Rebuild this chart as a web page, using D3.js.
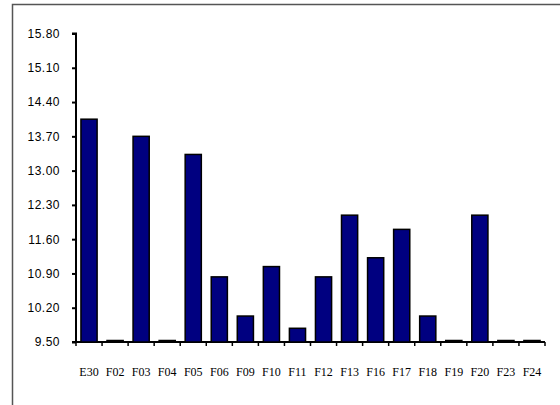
<!DOCTYPE html>
<html><head><meta charset="utf-8">
<script src="https://cdn.jsdelivr.net/npm/d3@7"></script>
<style>
html,body{margin:0;padding:0;background:#fff;}
svg{display:block;}
</style></head>
<body>
<svg id="chart" width="560" height="405"></svg>
<script>
const categories = ["E30","F02","F03","F04","F05","F06","F09","F10","F11","F12","F13","F16","F17","F18","F19","F20","F23","F24"];
const values = [14.05,9.50,13.70,9.50,13.33,10.83,10.03,11.04,9.78,10.83,12.09,11.22,11.80,10.03,9.50,12.09,9.50,9.50];
const yTicks = [9.50,10.20,10.90,11.60,12.30,13.00,13.70,14.40,15.10,15.80];

(function(){
const svg = d3.select("#chart");
const mLeft = 76, mRight = 545, mTop = 33.5, mBottom = 342;

// frame (only top and left visible in the picture)
svg.append("rect").attr("x",12.5).attr("y",4.5).attr("width",560).attr("height",420)
  .attr("fill","none").attr("stroke","#555").attr("stroke-width",1.5);

const x = d3.scaleBand().domain(categories).range([mLeft,mRight]).paddingInner(0.38).paddingOuter(0.19);
const y = d3.scaleLinear().domain([9.5,15.8]).range([mBottom,mTop]);

// y axis
const yAxis = d3.axisLeft(y).tickValues(yTicks).tickFormat(d3.format(".2f")).tickSize(4).tickPadding(12);
const gy = svg.append("g").attr("transform",`translate(${mLeft},0)`).call(yAxis);
gy.select(".domain").attr("stroke","#000").attr("stroke-width",2).attr("d",`M-4,${mTop}H0V${mBottom}H-4`);
gy.selectAll(".tick line").attr("stroke","#000").attr("stroke-width",2);
gy.selectAll(".tick text").attr("font-family","'Liberation Sans', Arial, sans-serif").attr("font-size",12)
  .attr("fill","#000").style("letter-spacing","0.5px");

// x axis with ticks at category boundaries
const xb = d3.scaleLinear().domain([0,categories.length]).range([mLeft,mRight]);
const gx = svg.append("g").attr("transform",`translate(0,${mBottom})`);
gx.append("path").attr("d",`M${mLeft},0H${mRight}`).attr("stroke","#000").attr("stroke-width",2).attr("fill","none");
gx.selectAll("line.t").data(d3.range(categories.length+1)).join("line").attr("class","t")
  .attr("x1",d=>xb(d)).attr("x2",d=>xb(d)).attr("y1",0).attr("y2",4)
  .attr("stroke","#000").attr("stroke-width",1.5);
gx.selectAll("text").data(categories).join("text")
  .attr("x", d => x(d) + x.bandwidth()/2)
  .attr("y", 31)
  .attr("text-anchor","middle")
  .attr("dominant-baseline","middle")
  .attr("font-family","'Liberation Serif','Times New Roman',serif")
  .attr("font-size",12)
  .attr("fill","#000")
  .text(d => d);

// bars (drawn over the axis so zero-height bars remain visible as thin lines)
svg.append("g").selectAll("rect").data(categories).join("rect")
  .attr("x", d => x(d))
  .attr("width", x.bandwidth())
  .attr("y", (d,i) => Math.min(y(values[i]), mBottom - 1.5))
  .attr("height", (d,i) => Math.max(1.5, y(9.5) - y(values[i])))
  .attr("fill","#000080")
  .attr("stroke","#000")
  .attr("stroke-width",1.5);
})();
</script>
</body></html>
